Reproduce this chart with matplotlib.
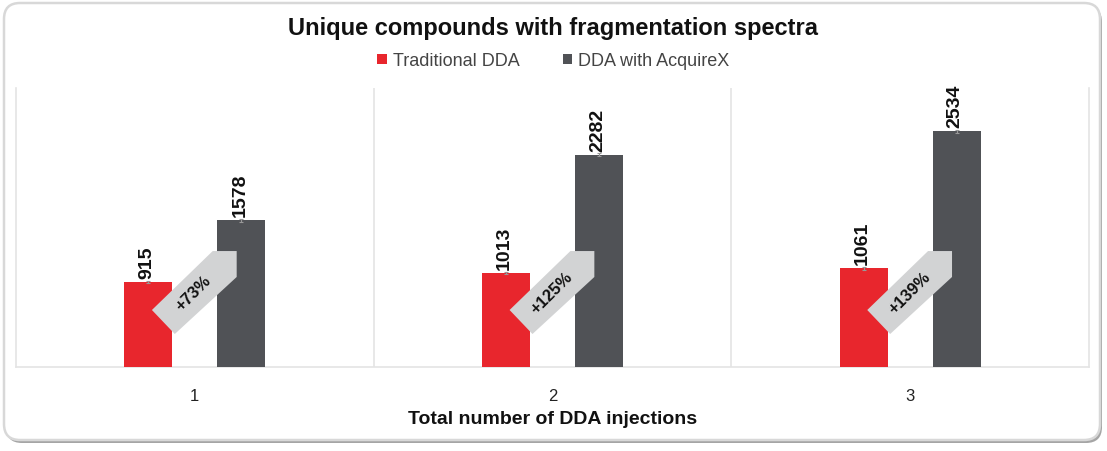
import matplotlib.pyplot as plt
import numpy as np
from matplotlib.patches import FancyBboxPatch, Polygon

plt.rcParams['font.family'] = ['Liberation Sans', 'DejaVu Sans']

# Data
injections = ['1', '2', '3']
traditional = [915, 1013, 1061]
acquirex = [1578, 2282, 2534]
trad_err = [12, 14, 14]
acq_err = [14, 14, 14]
gains = ['+73%', '+125%', '+139%']

red = '#e8262d'
dark = '#505256'
arrow_grey = '#d2d3d4'
line_grey = '#e4e4e4'

fig = plt.figure(figsize=(11.07, 4.52), dpi=100)
fig.patch.set_facecolor('white')

# card background with shadow
shadow = FancyBboxPatch((0.06, 0.08), 10.96, 4.37, boxstyle='round,pad=0,rounding_size=0.16',
                        transform=fig.dpi_scale_trans, facecolor='#a5a5a5', edgecolor='none', zorder=0)
card = FancyBboxPatch((0.04, 0.11), 10.96, 4.37, boxstyle='round,pad=0,rounding_size=0.16',
                      transform=fig.dpi_scale_trans, facecolor='white', edgecolor='#d8d8d8',
                      linewidth=1.8, zorder=1)
fig.patches.extend([shadow, card])

ax = fig.add_axes([0.01445, 0.1858, 0.9693, 0.6173])
ax.set_zorder(2)
ax.patch.set_alpha(0)

x = np.arange(len(injections))
w = 0.135
off = 0.13

ax.bar(x - off, traditional, w, color=red, yerr=trad_err, capsize=1.5,
       error_kw=dict(ecolor='#999999', elinewidth=0.8, capthick=0.8), zorder=3,
       label='Traditional DDA')
ax.bar(x + off, acquirex, w, color=dark, yerr=acq_err, capsize=1.5,
       error_kw=dict(ecolor='#999999', elinewidth=0.8, capthick=0.8), zorder=3,
       label='DDA with AcquireX')

# value labels
for xi, v, e in zip(x - off, traditional, trad_err):
    ax.text(xi - 0.004, v + e + 30, str(v), rotation=90, ha='center', va='bottom',
            fontsize=14, fontweight='bold', color='#111111', zorder=5)
for xi, v, e in zip(x + off, acquirex, acq_err):
    ax.text(xi - 0.004, v + e + 30, str(v), rotation=90, ha='center', va='bottom',
            fontsize=14, fontweight='bold', color='#111111', zorder=5)

# increase arrows between the bars
shape_dx = [-0.120, 0.050, 0.117, 0.117, -0.056]
shape_y = [613, 1247, 1247, 968, 355]
for xi, g in zip(x, gains):
    pts = [(xi + dx, y) for dx, y in zip(shape_dx, shape_y)]
    ax.add_patch(Polygon(pts, closed=True, facecolor=arrow_grey, edgecolor='none', zorder=4))
    ax.text(xi - 0.003, 800, g, rotation=45, rotation_mode='anchor', ha='center', va='center',
            fontsize=12, fontweight='bold', color='#111111', zorder=5)

# category separators
for s in [0.5, 1.5]:
    ax.axvline(s, color=line_grey, linewidth=1.2, zorder=1)

ax.set_xlim(-0.5, 2.5)
ax.set_ylim(0, 3000)
ax.set_yticks([])
ax.set_xticks(x)
ax.set_xticklabels(injections, fontsize=12, color='#222222')
ax.tick_params(axis='x', length=0, pad=15)
for side in ['left', 'right', 'bottom']:
    ax.spines[side].set_color(line_grey)
    ax.spines[side].set_linewidth(1.2)
ax.spines['top'].set_visible(False)
ax.set_xlabel('Total number of DDA injections', fontsize=14, fontweight='bold',
              color='#111111', labelpad=5)

fig.text(0.5, 0.938, 'Unique compounds with fragmentation spectra', ha='center', va='center',
         fontsize=17, fontweight='bold', color='#111111', zorder=5)
fig.legend(loc='center', bbox_to_anchor=(0.5, 0.863), ncol=2, frameon=False,
           handlelength=0.5, handleheight=0.5, handletextpad=0.35, columnspacing=2.4,
           labelcolor='#444444', prop=dict(size=13))

fig.savefig('out.png', dpi=100, facecolor='white')
plt.close(fig)
